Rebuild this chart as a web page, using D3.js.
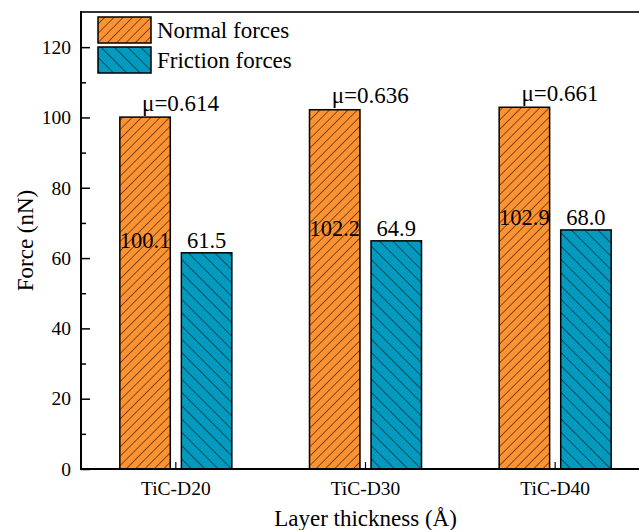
<!DOCTYPE html>
<html>
<head>
<meta charset="utf-8">
<script src="https://cdn.jsdelivr.net/npm/d3@7"></script>
<style>
  html, body { margin: 0; padding: 0; background: #fff; }
  svg { display: block; }
</style>
</head>
<body>
<svg id="chart" width="639" height="530"></svg>
<script>
// Normal and friction forces for the three TiC layer thicknesses
const categories = ["TiC-D20", "TiC-D30", "TiC-D40"];
const normalForces = [100.1, 102.2, 102.9];
const frictionForces = [61.5, 64.9, 68.0];
const muLabels = ["μ=0.614", "μ=0.636", "μ=0.661"];
const seriesNames = ["Normal forces", "Friction forces"];
const yMajorTicks = [0, 20, 40, 60, 80, 100, 120];
const yMinorTicks = [10, 30, 50, 70, 90, 110];

const FONT = "Liberation Serif, Times New Roman, serif";
const svg = d3.select("#chart").attr("font-family", FONT);
const plot = { left: 81, right: 650, top: 12, bottom: 469 };

const colors = { normal: "#FD9232", friction: "#039ABF" };

// hatch fills
const defs = svg.append("defs");
function hatch(id, fill, period, angle) {
  const p = defs.append("pattern")
    .attr("id", id)
    .attr("patternUnits", "userSpaceOnUse")
    .attr("width", period).attr("height", period)
    .attr("patternTransform", `rotate(${angle})`);
  p.append("rect").attr("width", period).attr("height", period).attr("fill", fill);
  p.append("line").attr("x1", 0).attr("y1", 0).attr("x2", 0).attr("y2", period)
    .attr("stroke", "#000").attr("stroke-width", 1);
}
hatch("hatchNormal", colors.normal, 6.6, 45);
hatch("hatchFriction", colors.friction, 9.4, -45);
const fills = ["url(#hatchNormal)", "url(#hatchFriction)"];

const x = d3.scaleBand().domain(categories).range([plot.left, plot.right]).padding(0);
const bw = x.bandwidth();
const xSub = d3.scaleBand().domain([0, 1]).range([bw / 2 - 56, bw / 2 + 56]).paddingInner(0.18);
const y = d3.scaleLinear().domain([0, 130]).range([plot.bottom, plot.top]);

// y axis ticks (inward)
const yAxis = svg.append("g").attr("transform", `translate(${plot.left},0)`)
  .call(d3.axisLeft(y).tickValues(yMajorTicks).tickSize(-9).tickPadding(10).tickFormat(d3.format("d")));
yAxis.attr("font-family", FONT);
yAxis.select(".domain").remove();
yAxis.selectAll(".tick line").attr("stroke", "#000").attr("stroke-width", 1.5);
yAxis.selectAll(".tick text").attr("font-size", 19.5).attr("fill", "#000");

const yMinor = svg.append("g").attr("transform", `translate(${plot.left},0)`)
  .call(d3.axisLeft(y).tickValues(yMinorTicks).tickSize(-5).tickFormat(""));
yMinor.select(".domain").remove();
yMinor.selectAll(".tick line").attr("stroke", "#000").attr("stroke-width", 1.5);

// x axis ticks (inward)
const xAxis = svg.append("g").attr("transform", `translate(0,${plot.bottom})`)
  .call(d3.axisBottom(x).tickSize(-7).tickPadding(12.5));
xAxis.attr("font-family", FONT);
xAxis.select(".domain").remove();
xAxis.selectAll(".tick line").attr("stroke", "#000").attr("stroke-width", 1.2);
xAxis.selectAll(".tick text").attr("font-size", 19.5).attr("fill", "#000");

// bars
const groups = svg.append("g").selectAll("g").data(categories).join("g")
  .attr("transform", d => `translate(${x(d)},0)`);

groups.each(function (cat, i) {
  const g = d3.select(this);
  const vals = [normalForces[i], frictionForces[i]];
  vals.forEach((v, s) => {
    g.append("rect")
      .attr("x", xSub(s)).attr("width", xSub.bandwidth())
      .attr("y", y(v)).attr("height", y(0) - y(v))
      .attr("fill", fills[s]).attr("stroke", "#000").attr("stroke-width", 1.5);
  });
  // value labels
  const labelY = y(frictionForces[i]) - 4.5;
  vals.forEach((v, s) => {
    g.append("text")
      .attr("x", xSub(s) + xSub.bandwidth() / 2).attr("y", labelY)
      .attr("text-anchor", "middle").attr("font-size", 22.5).attr("fill", "#000")
      .attr("font-family", FONT)
      .text(d3.format(".1f")(v));
  });
  // friction coefficient
  g.append("text")
    .attr("x", xSub(0) + xSub.bandwidth() / 2 - 3).attr("y", y(normalForces[i]) - 6.5)
    .attr("text-anchor", "start").attr("font-size", 23).attr("fill", "#000")
    .attr("font-family", FONT)
    .text(muLabels[i]);
});

// frame lines
svg.append("line").attr("x1", plot.left).attr("x2", 639).attr("y1", plot.top).attr("y2", plot.top)
  .attr("stroke", "#333").attr("stroke-width", 2);
svg.append("line").attr("x1", plot.left).attr("x2", plot.left).attr("y1", plot.top - 1).attr("y2", plot.bottom + 1)
  .attr("stroke", "#000").attr("stroke-width", 2);
svg.append("line").attr("x1", plot.left - 1).attr("x2", 639).attr("y1", plot.bottom).attr("y2", plot.bottom)
  .attr("stroke", "#000").attr("stroke-width", 2.2);

// legend
const legend = svg.append("g");
seriesNames.forEach((name, s) => {
  const ly = 17 + s * 30;
  legend.append("rect").attr("x", 98).attr("y", ly).attr("width", 53).attr("height", 26)
    .attr("fill", fills[s]).attr("stroke", "#000").attr("stroke-width", 1.5);
  legend.append("text").attr("x", 157).attr("y", ly + 20.5)
    .attr("font-size", 23).attr("fill", "#000").attr("font-family", FONT).text(name);
});

// axis titles
svg.append("text").attr("x", (plot.left + plot.right) / 2).attr("y", 526)
  .attr("text-anchor", "middle").attr("font-size", 23).attr("fill", "#000")
  .attr("font-family", FONT)
  .text("Layer thickness (Å)");
svg.append("text")
  .attr("transform", `translate(33,${(plot.top + plot.bottom) / 2}) rotate(-90)`)
  .attr("text-anchor", "middle").attr("font-size", 23).attr("fill", "#000")
  .attr("font-family", FONT)
  .text("Force (nN)");
</script>
</body>
</html>
